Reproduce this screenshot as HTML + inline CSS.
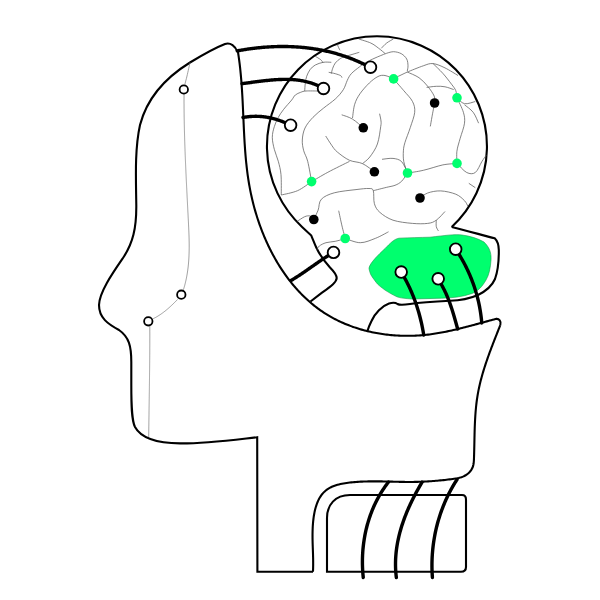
<!DOCTYPE html>
<html><head><meta charset="utf-8"><style>
html,body{margin:0;padding:0;background:#fff;width:600px;height:600px;overflow:hidden;font-family:"Liberation Sans",sans-serif;}
svg{display:block;}
</style></head><body>
<svg width="600" height="600" viewBox="0 0 600 600">
<path d="M313,571.7 L257.4,571.7 L257.2,437.2 C232,440 205,443.6 180,443.4 C158,443.2 141,438 135,427 C131.5,420 131.3,405 131.3,385 L131.3,362 C131.3,346 129,337 119,330 C108,324 99,318 99,305 C99.5,292 112,274 123,258 C133,243 136.5,228 136.3,205 C136,180 134.5,150 140,125 C147,98 165,78 190,62.5 C204,54 216,47.5 225,44 C230.5,42.3 235.5,46 237.4,52" stroke="#000" stroke-width="2.1" fill="none"/>
<path d="M237.94,51.70 L238.18,53.23 L238.41,54.76 L238.64,56.29 L238.85,57.82 L239.06,59.35 L239.26,60.88 L239.46,62.40 L239.65,63.93 L239.83,65.45 L240.00,66.97 L240.17,68.49 L240.33,70.01 L240.49,71.53 L240.64,73.05 L240.78,74.56 L240.92,76.08 L241.05,77.59 L241.18,79.11 L241.31,80.62 L241.43,82.13 L241.54,83.64 L241.65,85.15 L241.76,86.66 L241.86,88.17 L241.96,89.67 L242.06,91.18 L242.15,92.69 L242.24,94.19 L242.33,95.69 L242.41,97.20 L242.49,98.70 L242.57,100.20 L242.65,101.70 L242.72,103.20 L242.79,104.70 L242.86,106.20 L242.93,107.69 L243.00,109.19 L243.07,110.69 L243.14,112.18 L243.20,113.68 L243.27,115.17 L243.33,116.66 L243.40,118.16 L243.46,119.65 L243.53,121.14 L243.59,122.63 L243.66,124.12 L243.73,125.61 L243.79,127.10 L243.86,128.59 L243.93,130.08 L244.01,131.57 L244.08,133.05 L244.16,134.54 L244.23,136.03 L244.31,137.52 L244.40,139.00 L244.48,140.49 L244.57,141.97 L244.66,143.46 L244.76,144.94 L244.86,146.43 L244.96,147.91 L245.06,149.39 L245.17,150.88 L245.29,152.36 L245.41,153.84 L245.53,155.33 L245.66,156.81 L245.79,158.29 L245.93,159.78 L246.07,161.26 L246.22,162.74 L246.38,164.22 L246.54,165.70 L246.70,167.18 L246.88,168.67 L247.06,170.15 L247.24,171.63 L247.43,173.11 L247.63,174.59 L247.84,176.07 L248.06,177.55 L248.28,179.04 L248.51,180.52 L248.75,182.00 L248.99,183.48 L249.25,184.96 L249.51,186.44 L249.78,187.93 L250.06,189.41 L250.35,190.89 L250.65,192.37 L250.96,193.86 L251.28,195.34 L251.61,196.82 L251.94,198.30 L252.29,199.79 L252.65,201.27 L253.02,202.75 L253.39,204.23 L253.78,205.71 L254.18,207.19 L254.58,208.67 L255.00,210.15 L255.42,211.62 L255.86,213.10 L256.30,214.57 L256.76,216.04 L257.22,217.50 L257.70,218.97 L258.18,220.43 L258.68,221.89 L259.18,223.35 L259.69,224.81 L260.22,226.26 L260.75,227.71 L261.29,229.15 L261.85,230.59 L262.41,232.03 L262.98,233.47 L263.56,234.90 L264.15,236.32 L264.76,237.74 L265.37,239.16 L265.99,240.57 L266.62,241.98 L267.26,243.38 L267.91,244.78 L268.57,246.18 L269.24,247.56 L269.92,248.94 L270.61,250.32 L271.31,251.69 L272.02,253.05 L272.74,254.41 L273.47,255.76 L274.21,257.11 L274.96,258.45 L275.72,259.78 L276.49,261.10 L277.27,262.42 L278.05,263.73 L278.85,265.03 L279.66,266.33 L280.48,267.61 L281.31,268.89 L282.14,270.16 L282.99,271.42 L283.85,272.68 L284.72,273.92 L285.59,275.16 L286.48,276.39 L287.38,277.61 L288.28,278.82 L289.20,280.02 L290.13,281.21 L291.06,282.39 L292.01,283.56 L292.96,284.72 L293.93,285.88 L294.91,287.02 L295.89,288.15 L296.89,289.27 L297.89,290.38 L298.91,291.47 L299.93,292.56 L300.97,293.64 L302.01,294.70 L303.07,295.75 L304.13,296.79 L305.21,297.82 L306.29,298.84 L307.39,299.85 L308.49,300.84 L309.61,301.82 L310.73,302.79 L311.86,303.74 L313.01,304.68 L314.16,305.61 L315.33,306.53 L316.50,307.43 L317.68,308.31 L318.88,309.19 L320.08,310.05 L321.29,310.90 L322.52,311.73 L323.75,312.55 L324.99,313.35 L326.25,314.14 L327.51,314.91 L328.78,315.67 L330.06,316.42 L331.35,317.15 L332.65,317.86 L333.96,318.56 L335.27,319.25 L336.60,319.92 L337.93,320.58 L339.27,321.23 L340.62,321.86 L341.98,322.48 L343.34,323.08 L344.71,323.66 L346.09,324.24 L347.48,324.80 L348.87,325.34 L350.27,325.87 L351.67,326.39 L353.08,326.89 L354.50,327.38 L355.92,327.86 L357.35,328.32 L358.79,328.77 L360.23,329.20 L361.68,329.62 L363.13,330.02 L364.58,330.41 L366.04,330.79 L367.51,331.16 L368.98,331.51 L370.45,331.84 L371.93,332.16 L373.41,332.47 L374.90,332.77 L376.39,333.05 L377.88,333.32 L379.38,333.57 L380.87,333.81 L382.38,334.04 L383.88,334.25 L385.39,334.45 L386.90,334.63 L388.41,334.81 L389.92,334.96 L391.44,335.11 L392.96,335.24 L394.47,335.36 L396.00,335.46 L397.52,335.56 L399.04,335.63 L400.56,335.70 L402.09,335.75 L403.61,335.79 L405.14,335.81 L406.66,335.82 L408.19,335.82 L409.71,335.81 L411.23,335.78 L412.76,335.74 L414.28,335.68 L415.80,335.62 L417.32,335.54 L418.84,335.44 L420.36,335.34 L421.88,335.22 L423.40,335.08 L424.91,334.94 L426.42,334.78 L427.93,334.61 L429.44,334.42 L430.94,334.23 L432.45,334.02 L433.95,333.80 L435.45,333.57 L436.94,333.33 L438.44,333.08 L439.93,332.82 L441.43,332.55 L442.92,332.28 L444.40,331.99 L445.89,331.69 L447.37,331.39 L448.86,331.08 L450.34,330.76 L451.82,330.43 L453.29,330.10 L454.77,329.76 L456.24,329.41 L457.71,329.06 L459.18,328.70 L460.65,328.34 L462.12,327.97 L463.59,327.60 L465.05,327.23 L466.51,326.85 L467.97,326.47 L469.43,326.08 L470.89,325.70 L472.35,325.31 L473.80,324.92 L475.25,324.52 L476.71,324.13 L478.16,323.73 L479.60,323.34 L481.05,322.94 L482.50,322.55 L483.94,322.15 L485.39,321.76 L486.83,321.37 L488.27,320.98 L489.71,320.59 L491.15,320.20 L492.58,319.82 L494.02,319.44 L495.45,319.06 L496.89,318.68" stroke="#000" stroke-width="2.1" fill="none"/>
<path d="M496,319 C499,318.5 501.5,321 500.3,325" stroke="#000" stroke-width="2.1" fill="none"/>
<path d="M500.31,325.04 L499.77,326.42 L499.22,327.81 L498.67,329.20 L498.12,330.60 L497.57,331.99 L497.02,333.39 L496.47,334.79 L495.92,336.19 L495.36,337.59 L494.81,339.00 L494.26,340.40 L493.72,341.81 L493.17,343.22 L492.63,344.64 L492.08,346.05 L491.54,347.47 L491.01,348.89 L490.48,350.31 L489.95,351.73 L489.42,353.15 L488.90,354.58 L488.39,356.01 L487.88,357.44 L487.38,358.87 L486.88,360.31 L486.39,361.74 L485.90,363.18 L485.42,364.62 L484.95,366.06 L484.49,367.51 L484.03,368.95 L483.59,370.40 L483.15,371.85 L482.72,373.30 L482.30,374.76 L481.89,376.21 L481.49,377.67 L481.10,379.13 L480.72,380.59 L480.35,382.06 L479.99,383.52 L479.65,384.99 L479.31,386.46 L478.99,387.93 L478.69,389.40 L478.39,390.88 L478.11,392.36 L477.84,393.84 L477.59,395.32 L477.35,396.80 L477.12,398.29 L476.91,399.77 L476.71,401.26 L476.52,402.75 L476.34,404.25 L476.18,405.74 L476.02,407.24 L475.88,408.73 L475.74,410.23 L475.61,411.73 L475.50,413.23 L475.39,414.74 L475.29,416.24 L475.20,417.75 L475.11,419.26 L475.03,420.76 L474.96,422.27 L474.89,423.78 L474.83,425.29 L474.77,426.81 L474.72,428.32 L474.67,429.84 L474.63,431.35 L474.59,432.87 L474.55,434.38 L474.52,435.90 L474.48,437.42 L474.45,438.94 L474.42,440.46 L474.39,441.98 L474.36,443.50 L474.33,445.02 L474.30,446.54 L474.26,448.06 L474.23,449.59 L474.19,451.11 L474.15,452.63 L474.11,454.15 L474.07,455.68 L474.02,457.20 L473.97,458.72 L473.90,460.24 L473.79,461.75 L473.63,463.24 L473.38,464.71 L473.03,466.13 L472.55,467.52 L471.93,468.85 L471.15,470.13 L470.25,471.33 L469.22,472.46 L468.10,473.50 L466.90,474.45 L465.63,475.29 L464.30,476.02 L462.94,476.64 L461.53,477.16 L460.10,477.61 L458.64,477.98 L457.15,478.29 L455.65,478.55 L454.13,478.78 L452.61,478.99 L451.09,479.19 L449.56,479.38 L448.04,479.57 L446.51,479.75 L444.99,479.92 L443.46,480.09 L441.94,480.25 L440.41,480.40 L438.89,480.55 L437.36,480.69 L435.84,480.82 L434.31,480.95 L432.79,481.07 L431.27,481.18 L429.75,481.29 L428.23,481.39 L426.71,481.48 L425.19,481.56 L423.68,481.63 L422.16,481.70 L420.65,481.76 L419.14,481.81 L417.63,481.86 L416.13,481.89 L414.63,481.92 L413.13,481.94 L411.63,481.95 L410.13,481.95 L408.64,481.95 L407.15,481.94 L405.66,481.93 L404.17,481.91 L402.68,481.89 L401.19,481.86 L399.70,481.83 L398.22,481.80 L396.73,481.76 L395.25,481.72 L393.76,481.69 L392.27,481.65 L390.79,481.61 L389.30,481.57 L387.81,481.53 L386.32,481.50 L384.83,481.46 L383.34,481.43 L381.85,481.40 L380.35,481.38 L378.86,481.36 L377.36,481.35 L375.86,481.34 L374.35,481.34 L372.84,481.34 L371.33,481.35 L369.82,481.37 L368.30,481.40 L366.78,481.43 L365.26,481.48 L363.73,481.53 L362.20,481.60 L360.66,481.67 L359.12,481.76 L357.58,481.86 L356.02,481.98 L354.47,482.10 L352.91,482.24 L351.34,482.40 L349.77,482.57 L348.20,482.75 L346.63,482.96 L345.07,483.20 L343.51,483.46 L341.97,483.75 L340.45,484.07 L338.95,484.42 L337.47,484.82 L336.02,485.25 L334.59,485.72 L333.21,486.25 L331.86,486.82 L330.55,487.44 L329.28,488.11 L328.07,488.84 L326.90,489.63 L325.79,490.48 L324.74,491.40 L323.74,492.37 L322.80,493.40 L321.91,494.49 L321.07,495.63 L320.28,496.82 L319.54,498.05 L318.85,499.33 L318.20,500.65 L317.60,502.01 L317.04,503.41 L316.52,504.84 L316.04,506.30 L315.60,507.78 L315.19,509.29 L314.82,510.83 L314.49,512.38 L314.19,513.95 L313.91,515.54 L313.67,517.13 L313.46,518.74 L313.27,520.35 L313.11,521.96 L312.97,523.57 L312.85,525.18 L312.75,526.79 L312.68,528.38 L312.62,529.97 L312.58,531.55 L312.55,533.10 L312.53,534.64 L312.53,536.16 L312.54,537.66 L312.55,539.13 L312.58,540.59 L312.61,542.03 L312.65,543.46 L312.69,544.88 L312.74,546.30 L312.79,547.70 L312.84,549.11 L312.89,550.52 L312.94,551.93 L312.99,553.35 L313.03,554.77 L313.07,556.21 L313.11,557.66 L313.13,559.13 L313.15,560.61 L313.16,562.12 L313.17,563.65 L313.16,565.20 L313.13,566.79 L313.10,568.41 L313.05,570.06 L312.98,571.75" stroke="#000" stroke-width="2.1" fill="none"/>
<path d="M327,571.7 L327,518 C327,505 335,495 350,495 L462,495 Q466,495 466,499.5 L466,567 Q466,571.7 461,571.7 Z" stroke="#000" stroke-width="2.1" fill="none"/>
<path d="M451.7,227 A110,110 0 1 0 302.1,226.9 L311.3,235.6 C313,239.5 315,245 317,249 C320,255 325,262 330,267.5 C333.5,271 336.5,274 336.7,278 C336.5,282 332,285.5 322,292.7 L310.5,301.5" stroke="#000" stroke-width="2.1" fill="none"/>
<path d="M451.7,227 C462,229.5 482,235 494.7,238.3 C497.5,241 498.7,244 498.8,250 C498.9,258 499,268 495,279 C492,286 486,291 478,295 C470,298.5 462,300.5 450,300.8 C435,301.5 420,302.5 410,304 C405,304.8 400,305.5 397.5,304 C395.5,302.5 393,302.3 389,303.5 C382,306 375,313 371.5,321 C369.5,325 368,329 367.3,331.5" stroke="#000" stroke-width="2.1" fill="none"/>
<path d="M369,268 C370,263 378,255 385.3,248.3 C390,243.5 394,239 399,238.2 C410,237.6 420,237.5 430,237.2 C445,235.5 455,234 462,235 C470,236 478,238.5 484,242 C489,247 491.5,252 491,260 C490.5,268 489,275 486,280 C482,287 478,291 472,293.5 C462,297 452,298 441.7,298.2 L412,299 C405,298.5 400,298 397,296.8 C392,294.5 389,292.5 385.3,290.3 C381,287 378,285 376,282.2 C373,278 370.5,275 370,272.5 C369.5,270.5 369,269.5 369,268 Z" fill="#00ff6e" stroke="#169a4c" stroke-width="0.6"/>
<path d="M315.3,56.3 C316.2,56.9 319.4,58.6 320.7,59.7 C322.0,60.8 322.9,62.5 323.3,63.0" stroke="#5a5a5a" stroke-width="0.75" fill="none"/>
<path d="M331.3,62.3 C330.0,62.3 326.0,61.8 323.3,62.3 C320.6,62.8 317.5,63.8 315.3,65.0 C313.1,66.2 311.4,67.8 310.0,69.7 C308.6,71.6 307.5,74.1 306.7,76.3 C305.9,78.5 305.6,80.5 305.3,83.0 C305.0,85.5 304.8,89.7 304.7,91.0" stroke="#5a5a5a" stroke-width="0.75" fill="none"/>
<path d="M318.0,91.0 C316.0,91.0 308.9,90.8 306.0,91.0 C303.1,91.2 302.5,91.6 300.7,92.3 C298.9,93.0 296.8,93.7 295.3,95.0 C293.8,96.3 293.6,97.6 291.7,100.0 C289.8,102.4 285.9,106.4 283.7,109.3 C281.5,112.2 279.9,114.4 278.3,117.3 C276.7,120.2 275.3,123.4 274.3,126.7 C273.3,130.0 272.3,133.5 272.3,137.3 C272.3,141.1 273.3,145.3 274.3,149.3 C275.3,153.3 277.2,157.1 278.3,161.3 C279.4,165.5 280.5,169.1 281.0,174.7 C281.5,180.3 281.2,191.6 281.3,195.0" stroke="#5a5a5a" stroke-width="0.75" fill="none"/>
<path d="M281.3,195.0 C284.0,194.3 292.4,192.9 297.5,190.7 C302.6,188.5 309.2,183.1 311.6,181.6" stroke="#5a5a5a" stroke-width="0.75" fill="none"/>
<path d="M359.3,52.3 C357.1,53.0 349.1,55.3 346.0,56.3 C342.9,57.3 342.5,57.2 340.7,58.3 C338.9,59.4 336.6,61.3 335.3,63.0 C334.0,64.7 333.4,66.5 332.7,68.3 C332.0,70.1 331.5,72.8 331.3,73.7" stroke="#5a5a5a" stroke-width="0.75" fill="none"/>
<path d="M328.7,72.3 C329.8,72.5 333.3,73.1 335.3,73.7 C337.3,74.3 339.6,75.0 340.7,75.7 C341.8,76.4 341.8,77.4 342.0,77.7" stroke="#5a5a5a" stroke-width="0.75" fill="none"/>
<path d="M385.3,53.7 C383.6,54.4 378.4,56.5 375.0,58.0 C371.6,59.5 367.6,61.5 365.0,63.0 C362.4,64.5 361.6,65.2 359.3,67.0 C357.0,68.8 353.3,71.5 351.3,73.7 C349.3,75.9 348.6,77.6 347.3,80.3 C346.0,83.0 345.3,86.6 343.3,89.7 C341.3,92.8 338.6,96.0 335.3,99.0 C332.0,102.0 327.4,105.0 323.7,108.0 C320.0,111.0 316.1,114.0 313.0,117.3 C309.9,120.6 306.8,124.2 305.0,128.0 C303.2,131.8 302.5,136.2 302.3,140.0 C302.1,143.8 302.8,147.1 303.7,150.7 C304.6,154.2 306.4,156.2 307.7,161.3 C309.0,166.5 311.0,178.2 311.6,181.6" stroke="#5a5a5a" stroke-width="0.75" fill="none"/>
<path d="M358.7,39.0 C360.7,39.7 367.4,41.5 370.7,43.0 C374.0,44.5 376.3,46.5 378.7,48.3 C381.1,50.1 384.2,52.8 385.3,53.7" stroke="#5a5a5a" stroke-width="0.75" fill="none"/>
<path d="M381.3,48.3 C382.2,47.4 384.7,44.5 386.7,43.0 C388.7,41.5 392.2,39.7 393.3,39.0" stroke="#5a5a5a" stroke-width="0.75" fill="none"/>
<path d="M385.3,53.7 C386.6,53.4 390.6,51.7 393.3,51.7 C396.0,51.7 399.1,52.5 401.3,53.7 C403.5,54.9 405.6,57.0 406.7,59.0 C407.8,61.0 407.9,63.7 408.0,65.7 C408.1,67.7 407.4,70.1 407.3,71.0" stroke="#5a5a5a" stroke-width="0.75" fill="none"/>
<path d="M393.4,78.8 C394.5,78.2 397.7,76.6 400.0,75.5 C402.3,74.4 406.1,72.6 407.3,72.0" stroke="#5a5a5a" stroke-width="0.75" fill="none"/>
<path d="M407.3,72.0 C410.0,71.0 419.0,67.2 423.3,65.8 C427.6,64.3 429.5,63.2 433.1,63.6 C436.7,64.0 440.9,65.9 445.0,67.9 C449.1,69.9 455.8,74.2 458.0,75.5" stroke="#5a5a5a" stroke-width="0.75" fill="none"/>
<path d="M433.1,63.6 C434.7,65.2 439.7,69.9 442.8,73.3 C445.9,76.7 449.3,81.3 451.5,84.2 C453.7,87.1 454.9,88.4 455.8,90.7 C456.7,93.0 456.8,96.6 457.0,97.8" stroke="#5a5a5a" stroke-width="0.75" fill="none"/>
<path d="M407.3,72.0 C409.2,73.0 415.6,75.3 419.0,77.7 C422.4,80.1 425.2,83.2 427.7,86.3 C430.2,89.4 433.0,93.3 434.2,96.1 C435.4,98.9 434.5,101.8 434.6,103.0" stroke="#5a5a5a" stroke-width="0.75" fill="none"/>
<path d="M426.6,87.4 C428.2,87.2 433.2,86.4 436.3,86.3 C439.4,86.2 442.1,86.2 445.0,86.8 C447.9,87.3 452.2,89.1 453.7,89.6" stroke="#5a5a5a" stroke-width="0.75" fill="none"/>
<path d="M434.6,103.0 C434.2,105.3 432.7,112.8 432.0,116.7 C431.3,120.6 430.6,124.8 430.3,126.4" stroke="#5a5a5a" stroke-width="0.75" fill="none"/>
<path d="M393.4,78.8 C395.1,80.7 400.6,86.9 403.8,90.7 C407.0,94.5 410.7,97.9 412.5,101.5 C414.3,105.1 415.1,108.0 414.7,112.3 C414.3,116.6 411.9,122.4 410.3,127.5 C408.7,132.6 406.0,138.8 404.9,142.7 C403.8,146.6 403.6,147.6 403.4,150.8 C403.2,154.0 403.1,158.0 403.8,161.7 C404.5,165.4 406.9,171.1 407.5,173.0" stroke="#5a5a5a" stroke-width="0.75" fill="none"/>
<path d="M457.0,97.8 C458.2,98.8 461.4,103.1 464.5,103.7 C467.6,104.3 473.5,101.9 475.3,101.5" stroke="#5a5a5a" stroke-width="0.75" fill="none"/>
<path d="M464.5,104.8 C465.9,106.0 470.8,109.2 473.2,112.3 C475.6,115.4 477.7,121.4 478.6,123.2" stroke="#5a5a5a" stroke-width="0.75" fill="none"/>
<path d="M457.0,97.8 C458.1,100.2 462.1,108.1 463.4,112.3 C464.6,116.5 465.0,118.9 464.5,123.2 C464.0,127.5 461.5,133.6 460.2,138.3 C458.9,143.0 457.4,147.1 456.9,151.3 C456.4,155.5 457.0,161.4 457.0,163.4" stroke="#5a5a5a" stroke-width="0.75" fill="none"/>
<path d="M379.6,113.7 C379.8,114.9 380.8,118.8 381.0,121.0 C381.2,123.2 381.3,122.9 380.7,126.7 C380.1,130.5 379.2,138.9 377.4,144.0 C375.6,149.1 372.3,153.7 369.8,157.0 C367.3,160.3 363.7,162.5 362.5,163.6" stroke="#5a5a5a" stroke-width="0.75" fill="none"/>
<path d="M393.4,78.8 C392.0,78.2 387.6,75.9 385.0,75.5 C382.4,75.1 380.6,75.2 378.0,76.5 C375.4,77.8 372.3,80.1 369.3,83.0 C366.3,85.9 362.4,90.2 360.0,93.7 C357.6,97.2 355.9,100.2 354.7,104.3 C353.4,108.3 352.9,115.7 352.5,118.0" stroke="#5a5a5a" stroke-width="0.75" fill="none"/>
<path d="M341.7,114.8 C343.5,115.5 348.9,116.9 352.5,119.1 C356.1,121.3 361.5,126.3 363.3,127.8" stroke="#5a5a5a" stroke-width="0.75" fill="none"/>
<path d="M325.7,136.0 C326.7,137.6 329.8,142.6 331.7,145.3 C333.6,148.0 334.3,149.5 337.3,152.0 C340.3,154.5 345.3,158.4 349.5,160.3 C353.7,162.2 358.4,161.7 362.5,163.6 C366.6,165.5 372.4,170.4 374.4,171.8" stroke="#5a5a5a" stroke-width="0.75" fill="none"/>
<path d="M311.6,181.6 C314.3,180.1 321.5,175.7 327.8,172.3 C334.1,168.9 345.9,163.2 349.5,161.4" stroke="#5a5a5a" stroke-width="0.75" fill="none"/>
<path d="M382.0,159.3 C383.8,159.2 389.7,158.0 393.0,158.4 C396.3,158.8 399.3,159.3 401.7,161.7 C404.1,164.1 406.5,171.1 407.5,173.0" stroke="#5a5a5a" stroke-width="0.75" fill="none"/>
<path d="M313.8,219.3 C314.5,217.8 316.8,213.5 318.1,210.2 C319.4,206.9 318.6,202.2 321.3,199.3 C324.0,196.4 328.5,194.4 334.3,192.8 C340.1,191.2 350.2,190.3 356.0,189.6 C361.8,188.9 366.1,188.3 369.0,188.5 C371.9,188.7 372.4,188.2 373.3,190.7 C374.2,193.2 373.3,200.1 374.4,203.7 C375.5,207.3 376.7,209.6 379.8,212.3 C382.9,215.1 387.6,218.3 393.0,220.2 C398.4,222.0 406.7,222.9 412.5,223.4 C418.3,223.9 423.7,223.9 427.7,223.4 C431.7,222.9 433.4,222.2 436.3,220.2 C439.2,218.2 443.6,212.9 445.0,211.5" stroke="#5a5a5a" stroke-width="0.75" fill="none"/>
<path d="M373.3,190.7 C375.5,190.1 382.7,188.3 386.3,187.4 C389.9,186.5 392.4,186.3 395.0,185.3 C397.6,184.3 399.6,183.2 401.7,181.2 C403.8,179.1 406.5,174.4 407.5,173.0" stroke="#5a5a5a" stroke-width="0.75" fill="none"/>
<path d="M407.5,173.0 C410.1,172.6 417.4,171.7 423.3,170.3 C429.2,169.0 437.2,166.1 442.8,164.9 C448.4,163.8 454.6,163.7 457.0,163.4" stroke="#5a5a5a" stroke-width="0.75" fill="none"/>
<path d="M457.0,163.4 C458.6,164.9 463.6,171.0 466.7,172.5 C469.8,174.0 472.8,174.3 475.3,172.5 C477.8,170.7 480.0,164.6 481.8,161.7 C483.6,158.8 485.5,156.3 486.2,155.2" stroke="#5a5a5a" stroke-width="0.75" fill="none"/>
<path d="M420.0,198.0 C421.3,197.2 424.2,194.2 427.7,193.0 C431.1,191.8 436.0,190.7 440.7,190.9 C445.4,191.1 451.8,192.6 455.8,194.2 C459.8,195.8 462.5,198.7 464.5,200.7 C466.5,202.7 467.2,205.1 467.8,206.0" stroke="#5a5a5a" stroke-width="0.75" fill="none"/>
<path d="M436.3,220.2 C436.3,221.3 435.9,224.9 436.3,226.7 C436.7,228.5 438.1,230.3 438.5,231.0" stroke="#5a5a5a" stroke-width="0.75" fill="none"/>
<path d="M468.8,183.3 L475.3,187.7" stroke="#5a5a5a" stroke-width="0.75" fill="none"/>
<path d="M345.3,238.5 C347.8,239.2 355.3,242.7 360.3,242.7 C365.3,242.7 370.8,240.1 375.5,238.3 C380.2,236.5 386.3,232.9 388.5,231.8" stroke="#5a5a5a" stroke-width="0.75" fill="none"/>
<path d="M297.3,221.3 C298.5,220.5 302.6,217.6 304.7,216.7 C306.8,215.8 308.5,215.6 310.0,216.0 C311.5,216.4 313.1,218.8 313.8,219.3" stroke="#5a5a5a" stroke-width="0.75" fill="none"/>
<path d="M338.7,210.7 C339.2,213.2 340.9,221.3 342.0,226.0 C343.1,230.7 344.8,236.6 345.3,238.7" stroke="#5a5a5a" stroke-width="0.75" fill="none"/>
<path d="M345.3,238.7 C343.6,239.1 338.5,240.6 335.3,241.3 C332.1,242.0 328.7,241.9 326.0,242.7 C323.3,243.5 320.9,244.8 319.3,246.0 C317.8,247.2 317.1,249.3 316.7,250.0" stroke="#5a5a5a" stroke-width="0.75" fill="none"/>
<path d="M337.3,44.3 C337.5,44.9 338.2,46.7 338.7,47.7 C339.1,48.7 339.8,49.9 340.0,50.3" stroke="#5a5a5a" stroke-width="0.75" fill="none"/>
<path d="M190.0,62.5 C189.5,64.8 187.9,72.3 187.0,76.0 C186.1,79.7 185.2,83.1 184.8,84.5" stroke="#777" stroke-width="0.7" fill="none"/>
<path d="M184.05,94.01 L184.04,95.01 L184.04,96.02 L184.04,97.03 L184.03,98.03 L184.03,99.04 L184.03,100.04 L184.03,101.05 L184.03,102.06 L184.03,103.06 L184.04,104.07 L184.04,105.07 L184.05,106.08 L184.05,107.09 L184.06,108.09 L184.07,109.10 L184.08,110.11 L184.09,111.11 L184.10,112.12 L184.11,113.12 L184.12,114.13 L184.13,115.14 L184.14,116.14 L184.16,117.15 L184.17,118.15 L184.19,119.16 L184.21,120.17 L184.22,121.17 L184.24,122.18 L184.26,123.18 L184.28,124.19 L184.30,125.20 L184.32,126.20 L184.35,127.21 L184.37,128.22 L184.39,129.22 L184.42,130.23 L184.44,131.23 L184.47,132.24 L184.49,133.25 L184.52,134.25 L184.55,135.26 L184.58,136.26 L184.61,137.27 L184.63,138.28 L184.66,139.28 L184.70,140.29 L184.73,141.30 L184.76,142.30 L184.79,143.31 L184.82,144.32 L184.86,145.32 L184.89,146.33 L184.93,147.33 L184.96,148.34 L185.00,149.35 L185.03,150.35 L185.07,151.36 L185.11,152.37 L185.15,153.37 L185.18,154.38 L185.22,155.39 L185.26,156.39 L185.30,157.40 L185.34,158.41 L185.38,159.41 L185.42,160.42 L185.47,161.43 L185.51,162.43 L185.55,163.44 L185.59,164.45 L185.64,165.45 L185.68,166.46 L185.72,167.47 L185.77,168.47 L185.81,169.48 L185.86,170.49 L185.90,171.49 L185.95,172.50 L185.99,173.51 L186.04,174.51 L186.09,175.52 L186.13,176.53 L186.18,177.54 L186.23,178.54 L186.28,179.55 L186.32,180.56 L186.37,181.56 L186.42,182.57 L186.47,183.58 L186.52,184.59 L186.57,185.59 L186.62,186.60 L186.67,187.61 L186.72,188.61 L186.77,189.62 L186.82,190.63 L186.87,191.64 L186.92,192.64 L186.97,193.65 L187.02,194.66 L187.07,195.67 L187.12,196.67 L187.17,197.68 L187.22,198.69 L187.27,199.70 L187.33,200.70 L187.38,201.71 L187.43,202.72 L187.48,203.73 L187.53,204.74 L187.58,205.74 L187.63,206.75 L187.69,207.76 L187.74,208.77 L187.79,209.78 L187.84,210.78 L187.89,211.79 L187.94,212.80 L188.00,213.81 L188.05,214.82 L188.10,215.82 L188.15,216.83 L188.20,217.84 L188.25,218.85 L188.30,219.86 L188.36,220.87 L188.41,221.87 L188.46,222.88 L188.51,223.89 L188.56,224.90 L188.60,225.91 L188.65,226.92 L188.70,227.92 L188.74,228.93 L188.79,229.94 L188.83,230.95 L188.87,231.96 L188.91,232.96 L188.95,233.97 L188.98,234.98 L189.02,235.99 L189.05,236.99 L189.07,238.00 L189.10,239.01 L189.12,240.01 L189.14,241.02 L189.16,242.02 L189.17,243.03 L189.18,244.03 L189.19,245.04 L189.19,246.04 L189.19,247.05 L189.18,248.05 L189.17,249.05 L189.16,250.06 L189.14,251.06 L189.12,252.06 L189.09,253.06 L189.06,254.06 L189.02,255.06 L188.98,256.06 L188.93,257.06 L188.88,258.06 L188.82,259.06 L188.75,260.05 L188.68,261.05 L188.61,262.05 L188.53,263.04 L188.44,264.04 L188.34,265.03 L188.24,266.02 L188.13,267.02 L188.02,268.01 L187.89,269.00 L187.77,269.99 L187.63,270.98 L187.48,271.97 L187.33,272.96 L187.17,273.94 L187.01,274.93 L186.83,275.92 L186.65,276.90 L186.46,277.88 L186.26,278.87 L186.05,279.85 L185.83,280.83 L185.60,281.81 L185.37,282.79 L185.12,283.77 L184.87,284.74 L184.61,285.72 L184.33,286.69 L184.05,287.67 L183.76,288.64 L183.45,289.61" stroke="#777" stroke-width="0.7" fill="none"/>
<path d="M177.51,299.51 L176.77,300.27 L176.03,301.02 L175.28,301.77 L174.53,302.52 L173.78,303.27 L173.02,304.01 L172.25,304.75 L171.47,305.48 L170.70,306.21 L169.91,306.93 L169.12,307.64 L168.32,308.35 L167.51,309.04 L166.70,309.73 L165.88,310.41 L165.05,311.08 L164.21,311.73 L163.37,312.38 L162.51,313.01 L161.65,313.63 L160.78,314.24 L159.90,314.84 L159.01,315.42 L158.11,315.98 L157.21,316.53 L156.29,317.06 L155.36,317.58 L154.42,318.07 L153.47,318.55 L152.51,319.01" stroke="#777" stroke-width="0.7" fill="none"/>
<path d="M149.80,326.00 L149.80,327.01 L149.81,328.02 L149.81,329.03 L149.81,330.04 L149.81,331.05 L149.82,332.06 L149.82,333.06 L149.82,334.07 L149.82,335.08 L149.82,336.09 L149.82,337.10 L149.82,338.11 L149.81,339.12 L149.81,340.13 L149.81,341.14 L149.81,342.15 L149.80,343.16 L149.80,344.17 L149.80,345.17 L149.79,346.18 L149.79,347.19 L149.78,348.20 L149.78,349.21 L149.77,350.22 L149.77,351.23 L149.76,352.24 L149.75,353.25 L149.75,354.26 L149.74,355.27 L149.73,356.27 L149.72,357.28 L149.71,358.29 L149.71,359.30 L149.70,360.31 L149.69,361.32 L149.68,362.33 L149.67,363.34 L149.66,364.35 L149.65,365.36 L149.64,366.37 L149.63,367.37 L149.62,368.38 L149.61,369.39 L149.60,370.40 L149.58,371.41 L149.57,372.42 L149.56,373.43 L149.55,374.44 L149.54,375.45 L149.52,376.46 L149.51,377.47 L149.50,378.47 L149.49,379.48 L149.47,380.49 L149.46,381.50 L149.45,382.51 L149.43,383.52 L149.42,384.53 L149.41,385.54 L149.39,386.55 L149.38,387.56 L149.36,388.57 L149.35,389.57 L149.34,390.58 L149.32,391.59 L149.31,392.60 L149.29,393.61 L149.28,394.62 L149.26,395.63 L149.25,396.64 L149.23,397.65 L149.22,398.66 L149.20,399.66 L149.19,400.67 L149.18,401.68 L149.16,402.69 L149.15,403.70 L149.13,404.71 L149.12,405.72 L149.10,406.73 L149.09,407.74 L149.07,408.75 L149.06,409.76 L149.04,410.76 L149.03,411.77 L149.01,412.78 L149.00,413.79 L148.99,414.80 L148.97,415.81 L148.96,416.82 L148.94,417.83 L148.93,418.84 L148.91,419.85 L148.90,420.85 L148.89,421.86 L148.87,422.87 L148.86,423.88 L148.85,424.89 L148.83,425.90 L148.82,426.91 L148.81,427.92 L148.80,428.93 L148.78,429.94 L148.77,430.95 L148.76,431.95 L148.75,432.96 L148.73,433.97 L148.72,434.98 L148.71,435.99 L148.70,437.00" stroke="#777" stroke-width="0.7" fill="none"/>
<path d="M237.30,50.88 L238.29,50.70 L239.29,50.52 L240.29,50.34 L241.28,50.16 L242.28,49.99 L243.28,49.82 L244.28,49.66 L245.28,49.50 L246.28,49.35 L247.28,49.19 L248.28,49.05 L249.29,48.90 L250.29,48.76 L251.30,48.63 L252.30,48.50 L253.31,48.37 L254.32,48.24 L255.33,48.12 L256.33,48.01 L257.34,47.90 L258.35,47.79 L259.36,47.69 L260.37,47.59 L261.38,47.49 L262.39,47.40 L263.41,47.31 L264.42,47.23 L265.43,47.15 L266.44,47.08 L267.46,47.01 L268.47,46.95 L269.48,46.89 L270.50,46.83 L271.51,46.78 L272.53,46.73 L273.54,46.69 L274.56,46.65 L275.57,46.61 L276.59,46.58 L277.60,46.56 L278.62,46.54 L279.63,46.52 L280.65,46.51 L281.66,46.50 L282.68,46.50 L283.69,46.50 L284.70,46.51 L285.72,46.52 L286.73,46.54 L287.75,46.56 L288.76,46.58 L289.77,46.61 L290.79,46.65 L291.80,46.69 L292.81,46.73 L293.82,46.78 L294.84,46.83 L295.85,46.89 L296.86,46.96 L297.87,47.03 L298.88,47.10 L299.89,47.18 L300.90,47.26 L301.91,47.35 L302.91,47.44 L303.92,47.54 L304.93,47.65 L305.93,47.75 L306.94,47.87 L307.94,47.99 L308.95,48.11 L309.95,48.24 L310.95,48.37 L311.95,48.51 L312.95,48.66 L313.95,48.81 L314.95,48.96 L315.95,49.12 L316.94,49.29 L317.94,49.46 L318.93,49.63 L319.93,49.82 L320.92,50.00 L321.91,50.19 L322.90,50.39 L323.89,50.60 L324.88,50.80 L325.87,51.02 L326.85,51.24 L327.84,51.46 L328.82,51.69 L329.80,51.93 L330.78,52.17 L331.76,52.42 L332.74,52.67 L333.72,52.93 L334.69,53.19 L335.66,53.46 L336.64,53.73 L337.61,54.01 L338.58,54.30 L339.54,54.59 L340.51,54.89 L341.47,55.19 L342.44,55.50 L343.40,55.82 L344.36,56.14 L345.31,56.47 L346.27,56.80 L347.22,57.14 L348.18,57.48 L349.13,57.83 L350.08,58.19 L351.02,58.55 L351.97,58.92 L352.91,59.29 L353.85,59.67 L354.79,60.06 L355.73,60.45 L356.66,60.85 L357.60,61.26 L358.53,61.67 L359.45,62.08 L360.38,62.51 L361.31,62.94 L362.23,63.37 L363.15,63.81 L364.07,64.26 L364.98,64.71 L365.90,65.17 L366.81,65.64 L367.72,66.11 L368.62,66.59 L369.53,67.08 L370.43,67.57" stroke="#000" stroke-width="3.4" fill="none" stroke-linecap="round"/>
<path d="M242.03,83.57 L243.02,83.45 L244.00,83.33 L244.99,83.21 L245.98,83.09 L246.98,82.96 L247.97,82.83 L248.97,82.70 L249.98,82.57 L250.98,82.44 L251.99,82.31 L252.99,82.18 L254.00,82.04 L255.02,81.91 L256.03,81.78 L257.05,81.65 L258.06,81.52 L259.08,81.39 L260.10,81.26 L261.12,81.14 L262.15,81.01 L263.17,80.89 L264.20,80.77 L265.22,80.66 L266.25,80.55 L267.28,80.44 L268.30,80.33 L269.33,80.23 L270.36,80.13 L271.39,80.04 L272.42,79.96 L273.45,79.87 L274.48,79.80 L275.51,79.72 L276.54,79.66 L277.57,79.60 L278.60,79.55 L279.63,79.50 L280.66,79.46 L281.69,79.43 L282.71,79.41 L283.74,79.39 L284.76,79.38 L285.79,79.38 L286.81,79.39 L287.84,79.41 L288.86,79.43 L289.88,79.47 L290.89,79.51 L291.91,79.57 L292.93,79.64 L293.94,79.71 L294.95,79.80 L295.96,79.90 L296.97,80.01 L297.97,80.13 L298.98,80.26 L299.98,80.41 L300.97,80.57 L301.97,80.74 L302.96,80.92 L303.95,81.12 L304.94,81.33 L305.93,81.55 L306.91,81.79 L307.89,82.04 L308.86,82.31 L309.84,82.59 L310.80,82.89 L311.77,83.20 L312.73,83.53 L313.69,83.87 L314.64,84.24 L315.59,84.61 L316.54,85.01 L317.48,85.42 L318.42,85.85 L319.36,86.29 L320.29,86.76 L321.21,87.24 L322.13,87.74 L323.05,88.26" stroke="#000" stroke-width="3.4" fill="none" stroke-linecap="round"/>
<path d="M242.99,117.53 L244.02,117.34 L245.04,117.16 L246.06,117.00 L247.09,116.86 L248.11,116.74 L249.13,116.63 L250.16,116.53 L251.18,116.46 L252.20,116.40 L253.23,116.36 L254.25,116.33 L255.27,116.32 L256.29,116.32 L257.31,116.34 L258.33,116.37 L259.35,116.42 L260.37,116.49 L261.38,116.56 L262.40,116.66 L263.41,116.77 L264.42,116.89 L265.43,117.03 L266.43,117.18 L267.44,117.35 L268.44,117.53 L269.44,117.72 L270.44,117.93 L271.43,118.15 L272.42,118.39 L273.41,118.64 L274.40,118.90 L275.38,119.18 L276.36,119.46 L277.34,119.77 L278.31,120.08 L279.28,120.41 L280.24,120.75 L281.20,121.10 L282.16,121.46 L283.12,121.84 L284.06,122.23 L285.01,122.63 L285.95,123.04 L286.89,123.46 L287.82,123.90 L288.74,124.35 L289.66,124.80 L290.58,125.27" stroke="#000" stroke-width="3.4" fill="none" stroke-linecap="round"/>
<path d="M291.00,280.50 L291.90,279.97 L292.79,279.43 L293.68,278.89 L294.56,278.35 L295.45,277.80 L296.33,277.24 L297.20,276.68 L298.08,276.12 L298.95,275.55 L299.82,274.98 L300.68,274.40 L301.55,273.83 L302.41,273.24 L303.27,272.66 L304.13,272.07 L304.99,271.49 L305.84,270.90 L306.70,270.30 L307.55,269.71 L308.41,269.11 L309.26,268.52 L310.11,267.92 L310.96,267.33 L311.81,266.73 L312.67,266.13 L313.52,265.53 L314.37,264.94 L315.22,264.34 L316.07,263.74 L316.93,263.15 L317.78,262.56 L318.64,261.97 L319.49,261.38 L320.35,260.79 L321.21,260.20 L322.07,259.62 L322.94,259.04 L323.80,258.47 L324.67,257.89 L325.54,257.32 L326.41,256.76 L327.29,256.20 L328.16,255.64 L329.04,255.09 L329.93,254.54 L330.82,254.00 L331.71,253.46 L332.60,252.93 L333.50,252.40" stroke="#000" stroke-width="3.4" fill="none" stroke-linecap="round"/>
<path d="M401.16,272.01 L401.69,272.88 L402.22,273.77 L402.74,274.65 L403.25,275.53 L403.76,276.42 L404.26,277.32 L404.76,278.21 L405.25,279.11 L405.73,280.01 L406.21,280.91 L406.68,281.82 L407.15,282.73 L407.60,283.64 L408.06,284.55 L408.50,285.47 L408.94,286.39 L409.38,287.31 L409.81,288.24 L410.23,289.17 L410.65,290.10 L411.06,291.03 L411.46,291.96 L411.86,292.90 L412.25,293.84 L412.64,294.78 L413.02,295.72 L413.40,296.67 L413.77,297.62 L414.13,298.57 L414.49,299.52 L414.84,300.48 L415.19,301.43 L415.53,302.39 L415.86,303.36 L416.19,304.32 L416.52,305.28 L416.84,306.25 L417.15,307.22 L417.46,308.19 L417.76,309.16 L418.05,310.14 L418.34,311.12 L418.63,312.09 L418.91,313.07 L419.19,314.06 L419.45,315.04 L419.72,316.03 L419.98,317.01 L420.23,318.00 L420.48,318.99 L420.72,319.98 L420.96,320.98 L421.19,321.97 L421.42,322.97 L421.64,323.96 L421.86,324.96 L422.07,325.96 L422.27,326.96 L422.48,327.97 L422.67,328.97 L422.86,329.97 L423.05,330.98 L423.23,331.99 L423.41,333.00 L423.58,334.01 L423.74,335.02" stroke="#000" stroke-width="3.4" fill="none" stroke-linecap="round"/>
<path d="M437.92,279.03 L438.51,279.90 L439.09,280.78 L439.65,281.66 L440.20,282.55 L440.74,283.45 L441.27,284.35 L441.79,285.25 L442.30,286.16 L442.79,287.07 L443.28,287.99 L443.75,288.91 L444.22,289.84 L444.68,290.77 L445.12,291.70 L445.56,292.64 L445.99,293.58 L446.41,294.52 L446.82,295.47 L447.23,296.42 L447.62,297.38 L448.01,298.34 L448.39,299.30 L448.77,300.27 L449.14,301.23 L449.50,302.20 L449.85,303.18 L450.20,304.15 L450.54,305.13 L450.88,306.11 L451.21,307.09 L451.54,308.08 L451.86,309.06 L452.18,310.05 L452.49,311.04 L452.80,312.03 L453.10,313.02 L453.40,314.02 L453.70,315.01 L454.00,316.01 L454.29,317.01 L454.58,318.00 L454.87,319.00 L455.15,320.00 L455.43,321.00 L455.72,322.00 L456.00,323.01 L456.28,324.01 L456.55,325.01 L456.83,326.01 L457.11,327.01 L457.39,328.01 L457.67,329.01" stroke="#000" stroke-width="3.4" fill="none" stroke-linecap="round"/>
<path d="M455.66,249.22 L456.22,250.05 L456.78,250.89 L457.34,251.73 L457.88,252.58 L458.43,253.43 L458.97,254.28 L459.50,255.14 L460.03,256.00 L460.55,256.87 L461.06,257.74 L461.57,258.61 L462.08,259.49 L462.57,260.37 L463.07,261.26 L463.55,262.15 L464.04,263.04 L464.51,263.93 L464.98,264.83 L465.44,265.73 L465.90,266.64 L466.35,267.55 L466.80,268.46 L467.24,269.37 L467.67,270.29 L468.10,271.21 L468.53,272.14 L468.94,273.07 L469.35,274.00 L469.76,274.93 L470.16,275.86 L470.55,276.80 L470.93,277.74 L471.31,278.69 L471.69,279.63 L472.06,280.58 L472.42,281.53 L472.77,282.49 L473.12,283.44 L473.47,284.40 L473.80,285.36 L474.13,286.32 L474.46,287.29 L474.77,288.25 L475.09,289.22 L475.39,290.19 L475.69,291.16 L475.98,292.14 L476.27,293.12 L476.55,294.09 L476.82,295.07 L477.09,296.05 L477.35,297.04 L477.60,298.02 L477.85,299.01 L478.09,299.99 L478.32,300.98 L478.55,301.97 L478.77,302.96 L478.98,303.96 L479.19,304.95 L479.39,305.94 L479.59,306.94 L479.77,307.94 L479.95,308.93 L480.13,309.93 L480.29,310.93 L480.45,311.93 L480.61,312.93 L480.75,313.93 L480.89,314.94 L481.02,315.94 L481.15,316.94 L481.27,317.95 L481.38,318.95 L481.49,319.95 L481.58,320.96 L481.67,321.96 L481.76,322.97" stroke="#000" stroke-width="3.4" fill="none" stroke-linecap="round"/>
<path d="M363.26,577.49 L363.16,576.49 L363.06,575.49 L362.97,574.49 L362.88,573.48 L362.81,572.48 L362.74,571.47 L362.67,570.47 L362.62,569.46 L362.57,568.45 L362.53,567.44 L362.49,566.43 L362.46,565.42 L362.44,564.41 L362.43,563.40 L362.42,562.39 L362.42,561.38 L362.43,560.36 L362.44,559.35 L362.46,558.34 L362.49,557.33 L362.53,556.31 L362.57,555.30 L362.62,554.29 L362.68,553.28 L362.74,552.27 L362.81,551.25 L362.89,550.24 L362.97,549.23 L363.07,548.22 L363.17,547.21 L363.27,546.21 L363.39,545.20 L363.51,544.19 L363.64,543.18 L363.77,542.18 L363.92,541.17 L364.07,540.17 L364.22,539.17 L364.39,538.17 L364.56,537.17 L364.74,536.17 L364.93,535.17 L365.12,534.18 L365.32,533.18 L365.53,532.19 L365.75,531.20 L365.97,530.21 L366.20,529.23 L366.44,528.24 L366.68,527.26 L366.93,526.28 L367.19,525.30 L367.46,524.32 L367.74,523.35 L368.02,522.37 L368.31,521.40 L368.60,520.43 L368.91,519.47 L369.22,518.51 L369.54,517.55 L369.87,516.59 L370.20,515.63 L370.54,514.68 L370.89,513.73 L371.25,512.78 L371.61,511.84 L371.98,510.90 L372.36,509.96 L372.75,509.03 L373.14,508.10 L373.54,507.17 L373.95,506.25 L374.37,505.33 L374.79,504.41 L375.23,503.49 L375.66,502.58 L376.11,501.68 L376.57,500.77 L377.03,499.88 L377.50,498.98 L377.98,498.09 L378.46,497.20 L378.95,496.32 L379.45,495.44 L379.96,494.57 L380.48,493.70 L381.00,492.83 L381.53,491.97 L382.07,491.11 L382.62,490.26 L383.17,489.41 L383.73,488.57 L384.30,487.73 L384.88,486.90 L385.46,486.07 L386.06,485.25 L386.66,484.43 L387.27,483.61 L387.88,482.80 L388.51,482.00" stroke="#000" stroke-width="3.4" fill="none" stroke-linecap="round"/>
<path d="M396.35,577.54 L396.22,576.51 L396.10,575.48 L396.00,574.45 L395.90,573.42 L395.82,572.39 L395.75,571.37 L395.68,570.34 L395.63,569.31 L395.58,568.29 L395.55,567.27 L395.53,566.24 L395.51,565.22 L395.51,564.20 L395.51,563.18 L395.52,562.16 L395.55,561.14 L395.58,560.13 L395.62,559.11 L395.67,558.10 L395.74,557.08 L395.80,556.07 L395.88,555.06 L395.97,554.05 L396.07,553.04 L396.17,552.03 L396.28,551.03 L396.41,550.02 L396.54,549.02 L396.67,548.01 L396.82,547.01 L396.98,546.01 L397.14,545.01 L397.31,544.02 L397.49,543.02 L397.67,542.03 L397.87,541.03 L398.07,540.04 L398.28,539.05 L398.50,538.06 L398.72,537.07 L398.95,536.09 L399.19,535.10 L399.44,534.12 L399.69,533.14 L399.95,532.16 L400.22,531.18 L400.50,530.20 L400.78,529.23 L401.06,528.26 L401.36,527.28 L401.66,526.31 L401.97,525.35 L402.28,524.38 L402.60,523.42 L402.93,522.45 L403.26,521.49 L403.60,520.53 L403.94,519.57 L404.29,518.62 L404.64,517.66 L405.01,516.71 L405.37,515.76 L405.75,514.81 L406.12,513.87 L406.51,512.92 L406.89,511.98 L407.29,511.04 L407.69,510.10 L408.09,509.16 L408.50,508.23 L408.91,507.29 L409.33,506.36 L409.75,505.43 L410.18,504.51 L410.61,503.58 L411.05,502.66 L411.49,501.74 L411.94,500.82 L412.39,499.91 L412.84,498.99 L413.30,498.08 L413.76,497.17 L414.22,496.27 L414.69,495.36 L415.17,494.46 L415.64,493.56 L416.12,492.66 L416.61,491.77 L417.09,490.87 L417.58,489.98 L418.08,489.09 L418.57,488.21 L419.07,487.32 L419.57,486.44 L420.08,485.57 L420.59,484.69 L421.10,483.82 L421.61,482.94 L422.13,482.08" stroke="#000" stroke-width="3.4" fill="none" stroke-linecap="round"/>
<path d="M432.41,577.50 L432.34,576.49 L432.27,575.47 L432.21,574.45 L432.15,573.44 L432.11,572.42 L432.07,571.40 L432.03,570.39 L432.00,569.37 L431.98,568.35 L431.97,567.33 L431.96,566.31 L431.96,565.30 L431.96,564.28 L431.97,563.26 L431.99,562.24 L432.01,561.22 L432.04,560.21 L432.08,559.19 L432.12,558.17 L432.17,557.15 L432.22,556.14 L432.29,555.12 L432.35,554.11 L432.43,553.09 L432.51,552.07 L432.60,551.06 L432.69,550.05 L432.79,549.03 L432.90,548.02 L433.01,547.01 L433.13,546.00 L433.25,544.99 L433.39,543.98 L433.52,542.97 L433.67,541.96 L433.82,540.95 L433.98,539.95 L434.14,538.94 L434.31,537.94 L434.49,536.94 L434.67,535.94 L434.86,534.94 L435.05,533.94 L435.25,532.94 L435.46,531.94 L435.68,530.95 L435.90,529.95 L436.12,528.96 L436.36,527.97 L436.59,526.98 L436.84,525.99 L437.09,525.01 L437.35,524.02 L437.61,523.04 L437.88,522.06 L438.16,521.08 L438.44,520.10 L438.73,519.13 L439.03,518.15 L439.33,517.18 L439.64,516.21 L439.95,515.24 L440.27,514.28 L440.60,513.31 L440.93,512.35 L441.27,511.39 L441.62,510.43 L441.97,509.48 L442.33,508.53 L442.69,507.58 L443.06,506.63 L443.44,505.68 L443.82,504.74 L444.21,503.80 L444.60,502.86 L445.00,501.93 L445.41,500.99 L445.82,500.06 L446.24,499.14 L446.67,498.21 L447.10,497.29 L447.54,496.37 L447.98,495.46 L448.43,494.54 L448.89,493.63 L449.35,492.73 L449.82,491.82 L450.29,490.92 L450.77,490.02 L451.26,489.13 L451.75,488.24 L452.25,487.35 L452.76,486.46 L453.27,485.58 L453.79,484.70 L454.31,483.83 L454.84,482.96 L455.37,482.09 L455.92,481.22 L456.46,480.36 L457.02,479.51" stroke="#000" stroke-width="3.4" fill="none" stroke-linecap="round"/>
<circle cx="370.5" cy="67.2" r="5.8" fill="#fff" stroke="#000" stroke-width="1.85"/>
<circle cx="323.5" cy="88.5" r="5.8" fill="#fff" stroke="#000" stroke-width="1.85"/>
<circle cx="290.6" cy="125.2" r="5.8" fill="#fff" stroke="#000" stroke-width="1.85"/>
<circle cx="333.5" cy="252.4" r="5.8" fill="#fff" stroke="#000" stroke-width="1.85"/>
<circle cx="401.2" cy="272.0" r="5.8" fill="#fff" stroke="#000" stroke-width="1.85"/>
<circle cx="438.2" cy="278.8" r="5.8" fill="#fff" stroke="#000" stroke-width="1.85"/>
<circle cx="455.7" cy="249.2" r="5.8" fill="#fff" stroke="#000" stroke-width="1.85"/>
<circle cx="183.8" cy="89.5" r="4.2" fill="#fff" stroke="#000" stroke-width="1.8"/>
<circle cx="181.3" cy="294.7" r="4.2" fill="#fff" stroke="#000" stroke-width="1.8"/>
<circle cx="148.3" cy="321.3" r="4.2" fill="#fff" stroke="#000" stroke-width="1.8"/>
<circle cx="363.3" cy="127.8" r="4.8" fill="#000"/>
<circle cx="374.4" cy="171.8" r="4.8" fill="#000"/>
<circle cx="434.6" cy="103.0" r="4.8" fill="#000"/>
<circle cx="420.0" cy="198.0" r="4.8" fill="#000"/>
<circle cx="313.8" cy="219.5" r="4.8" fill="#000"/>
<circle cx="393.6" cy="78.9" r="4.8" fill="#00ff6e"/>
<circle cx="457.0" cy="97.8" r="4.8" fill="#00ff6e"/>
<circle cx="311.6" cy="181.6" r="4.8" fill="#00ff6e"/>
<circle cx="407.5" cy="173.0" r="4.8" fill="#00ff6e"/>
<circle cx="457.0" cy="163.4" r="4.8" fill="#00ff6e"/>
<circle cx="345.2" cy="238.5" r="4.8" fill="#00ff6e"/>
</svg>
</body></html>
